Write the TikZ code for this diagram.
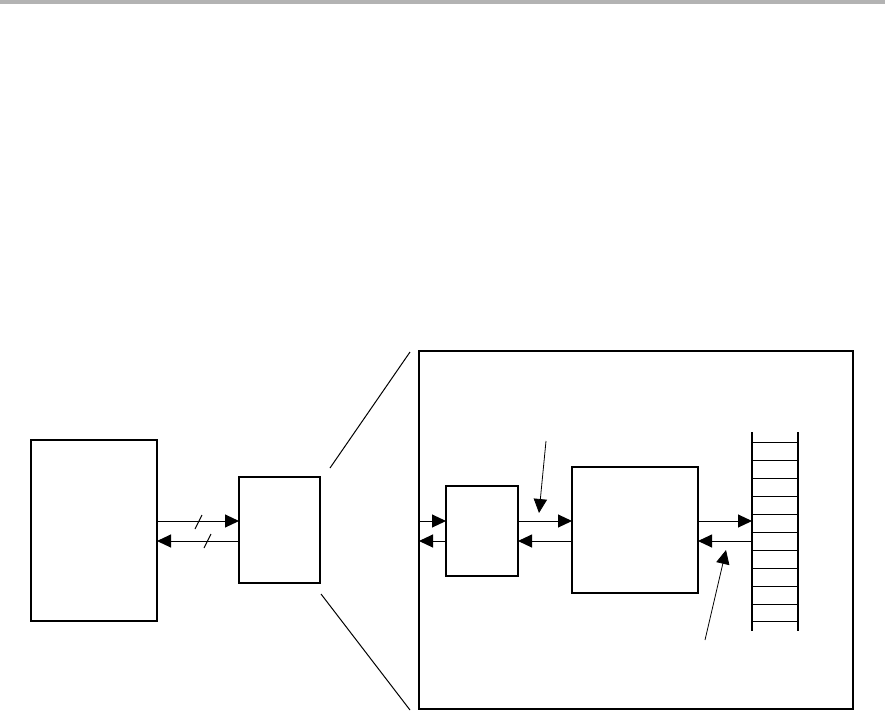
\documentclass[tikz,border=0pt]{standalone}
\usetikzlibrary{arrows.meta}
\begin{document}
\begin{tikzpicture}[x=0.75pt,y=-0.75pt,
  box/.style={draw,line width=1.5pt,inner sep=0pt,outer sep=0pt,rectangle},
  thin/.style={line width=0.75pt},
  arr/.style={line width=0.75pt,-{Triangle[length=10.5pt,width=9.75pt]}},
  larr/.style={line width=0.6pt,-{Triangle[length=10.5pt,width=10pt]}}]
\useasboundingbox (0,0) rectangle (885,714);
\fill[fill={rgb,255:red,179;green,179;blue,179}] (0,0) rectangle (885,4);
% boxes
\node[box,minimum width=126*0.75pt,minimum height=181*0.75pt] (L) at (94,530.5) {};
\node[box,minimum width=81*0.75pt,minimum height=106*0.75pt] (M) at (279.5,530) {};
\node[box,minimum width=434*0.75pt,minimum height=358*0.75pt] (Big) at (636,530) {};
\node[box,minimum width=72*0.75pt,minimum height=90*0.75pt] (S) at (482,531) {};
\node[box,minimum width=126*0.75pt,minimum height=126*0.75pt] (B) at (635,530) {};
\node[inner sep=0pt,outer sep=0pt,minimum width=46*0.75pt,minimum height=199*0.75pt] (Lad) at (775,531.5) {};
\coordinate (r1) at (0,521);
\coordinate (r2) at (0,541);
% ladder
\draw[line width=1.5pt] (Lad.north west) -- (Lad.south west);
\draw[line width=1.5pt] (Lad.north east) -- (Lad.south east);
\foreach \yy in {442,460,478,496,514,532,550,568,586,604,621}
  \draw[thin] (752,\yy) -- (798,\yy);
% arrows
\draw[arr] (L.east |- r1) -- (M.west |- r1);
\draw[arr] (M.west |- r2) -- (L.east |- r2);
\draw[thin] (195,529) -- (202,515);
\draw[thin] (204,548) -- (211,534);
\draw[arr] (Big.west |- r1) -- (S.west |- r1);
\draw[arr] (S.west |- r2) -- (Big.west |- r2);
\draw[arr] (S.east |- r1) -- (B.west |- r1);
\draw[arr] (B.west |- r2) -- (S.east |- r2);
\draw[arr] (B.east |- r1) -- (Lad.west |- r1);
\draw[arr] (Lad.west |- r2) -- (B.east |- r2);
% zoom lines
\coordinate (z1) at (330,468);
\coordinate (z2) at (410,352);
\coordinate (z3) at (321,594);
\coordinate (z4) at (410,710);
\draw[thin] (z1) -- (z2);
\draw[thin] (z3) -- (z4);
% label pointers
\coordinate (p1) at (546,441);
\coordinate (p1t) at (539,513);
\coordinate (p2) at (705,640);
\coordinate (p2t) at (726,550);
\draw[larr] (p1) -- (p1t);
\draw[larr] (p2) -- (p2t);
\end{tikzpicture}
\end{document}
